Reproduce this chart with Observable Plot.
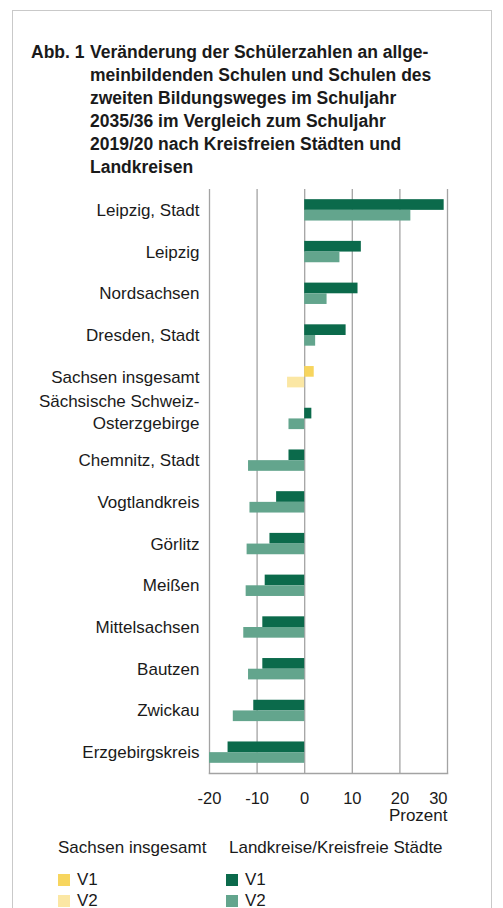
<!DOCTYPE html>
<html>
<head>
<meta charset="utf-8">
<script src="https://cdn.jsdelivr.net/npm/d3@7"></script>
<script src="https://cdn.jsdelivr.net/npm/@observablehq/plot@0.6"></script>
<style>
  html, body { margin: 0; padding: 0; background: #fff; }
  body { width: 503px; height: 908px; overflow: hidden; position: relative; font-family: "Liberation Sans", Arial, sans-serif; color: #1a1a1a; }
  #box { position: absolute; left: 12px; top: 10px; width: 480px; height: 960px; border: 1.5px solid #c9c9c9; box-sizing: border-box; }
  #abb { position: absolute; left: 31px; top: 41px; font-weight: bold; font-size: 17.5px; line-height: 23px; }
  #title { position: absolute; left: 90px; top: 41px; width: 400px; font-weight: bold; font-size: 17.5px; line-height: 23px; }
  #chart { position: absolute; left: 0; top: 0; }
  .lg { position: absolute; font-size: 17px; line-height: 20px; white-space: nowrap; }
  .sw { position: absolute; width: 12px; height: 12px; }
</style>
</head>
<body>
<div id="box"></div>
<div id="chart"></div>
<div id="abb">Abb. 1</div>
<div id="title">Veränderung der Schülerzahlen an allge-<br>meinbildenden Schulen und Schulen des<br>zweiten Bildungsweges im Schuljahr<br>2035/36 im Vergleich zum Schuljahr<br>2019/20 nach Kreisfreien Städten und<br>Landkreisen</div>
<div id="legend"></div>
<script>
// ---- data ----
const categories = [
  "Leipzig, Stadt",
  "Leipzig",
  "Nordsachsen",
  "Dresden, Stadt",
  "Sachsen insgesamt",
  "Sächsische Schweiz-\nOsterzgebirge",
  "Chemnitz, Stadt",
  "Vogtlandkreis",
  "Görlitz",
  "Meißen",
  "Mittelsachsen",
  "Bautzen",
  "Zwickau",
  "Erzgebirgskreis"
];
const valuesV1 = [29.3, 11.9, 11.2, 8.7, 2.0, 1.5, -3.3, -5.9, -7.3, -8.3, -8.8, -8.8, -10.7, -16.1];
const valuesV2 = [22.3, 7.4, 4.7, 2.3, -3.6, -3.3, -11.8, -11.5, -12.1, -12.3, -12.8, -11.8, -15.0, -20.0];
const xTicks = [-20, -10, 0, 10, 20, 30];
const totalCategory = "Sachsen insgesamt";
const legendGroups = ["Sachsen insgesamt", "Landkreise/Kreisfreie Städte"];
const seriesNames = ["V1", "V2"];
const axisUnit = "Prozent";

// ---- build table ----
const groupOf = c => c === totalCategory ? "S" : "L";
const rowsV1 = categories.map((c, i) => ({cat: c, value: valuesV1[i], key: groupOf(c) + "-V1"}));
const rowsV2 = categories.map((c, i) => ({cat: c, value: valuesV2[i], key: groupOf(c) + "-V2"}));

const colorDomain = ["S-V1", "S-V2", "L-V1", "L-V2"];
const colorRange = ["#f7d55e", "#fbe7a4", "#0b6a4b", "#63a58d"];

const multiLine = categories.filter(c => c.includes("\n"));
const singleLine = categories.filter(c => !c.includes("\n"));
const half = 5.34;

const chart = Plot.plot({
  width: 503,
  height: 830,
  marginTop: 189,
  marginBottom: 57,
  marginLeft: 209,
  marginRight: 56,
  style: {fontFamily: "'Liberation Sans', Arial, sans-serif", fontSize: "16px", color: "#1a1a1a", background: "transparent"},
  x: {domain: [-20, 30], axis: null},
  y: {domain: categories, paddingInner: 0.744, paddingOuter: 0.372, round: false, axis: null},
  color: {domain: colorDomain, range: colorRange},
  marks: [
    Plot.ruleX(xTicks, {stroke: "#a3a3a3", strokeWidth: 1.3}),
    Plot.frame({anchor: "bottom", stroke: "#a3a3a3", strokeWidth: 1.6}),
    Plot.barX(rowsV1, {x: "value", y: "cat", fill: "key", dy: -half}),
    Plot.barX(rowsV2, {x: "value", y: "cat", fill: "key", dy: half}),
    Plot.axisY(singleLine, {tickSize: 0, tickPadding: 10, label: null, fontSize: 17, fill: "#1a1a1a"}),
    Plot.axisY(multiLine, {tickSize: 0, tickPadding: 10, label: null, fontSize: 17, lineHeight: 1.3, dy: -8, fill: "#1a1a1a"}),
    Plot.axisX(xTicks.filter(t => t !== 30), {tickSize: 0, tickPadding: 19, label: null, fontSize: 16.5, fill: "#1a1a1a", tickFormat: d => String(d)}),
    Plot.axisX([30], {tickSize: 0, tickPadding: 19, label: null, fontSize: 16.5, fill: "#1a1a1a", textAnchor: "end", tickFormat: d => String(d)}),
    Plot.text([axisUnit], {frameAnchor: "bottom-right", textAnchor: "end", dy: 47, fontSize: 17, fill: "#1a1a1a"})
  ]
});
document.getElementById("chart").appendChild(chart);

// ---- legend (HTML) ----
const lg = document.getElementById("legend");
const groupX = [{text: 58, sw: 58}, {text: 229, sw: 226}];
legendGroups.forEach((g, gi) => {
  const h = document.createElement("div");
  h.className = "lg";
  h.style.left = groupX[gi].text + "px";
  h.style.top = "838px";
  h.textContent = g;
  lg.appendChild(h);
  seriesNames.forEach((s, si) => {
    const key = (gi === 0 ? "S-" : "L-") + s;
    const cy = 880 + si * 21;
    const sw = document.createElement("div");
    sw.className = "sw";
    sw.style.left = groupX[gi].sw + "px";
    sw.style.top = (cy - 6) + "px";
    sw.style.background = colorRange[colorDomain.indexOf(key)];
    lg.appendChild(sw);
    const t = document.createElement("div");
    t.className = "lg";
    t.style.left = (groupX[gi].sw + 19) + "px";
    t.style.top = (cy - 10) + "px";
    t.textContent = s;
    lg.appendChild(t);
  });
});
</script>
</body>
</html>
